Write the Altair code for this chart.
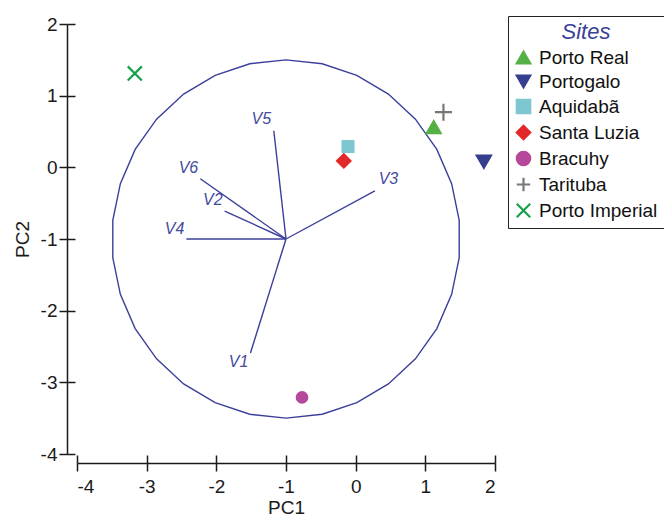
import altair as alt
import numpy as np
import pandas as pd

# ---- data ----
sites = ["Porto Real", "Portogalo", "Aquidabã", "Santa Luzia", "Bracuhy", "Tarituba", "Porto Imperial"]
site_pc1 = [1.12, 1.84, -0.11, -0.17, -0.77, 1.26, -3.17]
site_pc2 = [0.56, 0.08, 0.29, 0.09, -3.21, 0.77, 1.31]
site_colors = ["#55b145", "#363e8e", "#7ec7d1", "#e2282a", "#b6489b", "#7a7672", "#16a04b"]
site_shapes = ["triangle-up", "triangle-down", "square", "diamond", "circle",
               "M-1,0H1M0,-1V1", "M-1,-1L1,1M-1,1L1,-1"]
site_sizes = [190, 200, 118, 175, 110, 290, 200]

vectors = ["V1", "V2", "V3", "V4", "V5", "V6"]
vec_pc1 = [-1.51, -1.88, 0.276, -2.43, -1.175, -2.23]
vec_pc2 = [-2.59, -0.61, -0.33, -1.00, 0.51, -0.16]
vec_label_pc1 = [-1.68, -2.05, 0.47, -2.60, -1.355, -2.40]
vec_label_pc2 = [-2.72, -0.46, -0.165, -0.86, 0.67, -0.01]
origin_pc1 = -1.0
origin_pc2 = -1.0

circle_center = (-1.0, -1.0)
circle_radius = 2.5
circle_sides = 30

ticks = [-4, -3, -2, -1, 0, 1, 2]

# ---- tables ----
sites_df = pd.DataFrame({"Site": sites, "PC1": site_pc1, "PC2": site_pc2, "sz": site_sizes})
vec_df = pd.DataFrame({"v": vectors, "x0": origin_pc1, "y0": origin_pc2,
                       "x1": vec_pc1, "y1": vec_pc2,
                       "lx": vec_label_pc1, "ly": vec_label_pc2})
ang = np.deg2rad(6 + 360.0 / circle_sides * np.arange(circle_sides + 1))
circ_df = pd.DataFrame({"x": circle_center[0] + circle_radius * np.cos(ang),
                        "y": circle_center[1] + circle_radius * np.sin(ang),
                        "o": np.arange(circle_sides + 1)})

FONT = "Liberation Sans"
BLUE = "#3b3f9a"
AX = "#1a1a1a"
xs = alt.Scale(domain=[-4, 2], nice=False, zero=False)
ys = alt.Scale(domain=[-4, 2], nice=False, zero=False)
lab = "datum.value < 0 ? '-' + abs(datum.value) : '' + datum.value"

x_main = alt.Axis(values=ticks, orient="bottom", offset=9, tickSize=8, tickWidth=1.5, tickColor=AX,
                  domainColor=AX, domainWidth=1.5, labelFont=FONT, labelFontSize=19, labelColor=AX,
                  labelPadding=6, labelExpr=lab, title="PC1", titleFont=FONT, titleFontSize=19,
                  titleFontWeight="normal", titleColor=AX, titlePadding=2, grid=False)
y_main = alt.Axis(values=ticks, orient="left", offset=10, tickSize=8, tickWidth=1.5, tickColor=AX,
                  domainColor=AX, domainWidth=1.5, labelFont=FONT, labelFontSize=19, labelColor=AX,
                  labelPadding=2, labelExpr=lab, title="PC2", titleFont=FONT, titleFontSize=19,
                  titleFontWeight="normal", titleColor=AX, titlePadding=8, grid=False)
x_in = alt.Axis(values=ticks, orient="bottom", offset=1, tickSize=8, tickWidth=1.5, tickColor=AX,
                domain=False, labels=False, title=None, grid=False)
y_in = alt.Axis(values=ticks, orient="left", offset=2, tickSize=8, tickWidth=1.5, tickColor=AX,
                domain=False, labels=False, title=None, grid=False)

circle = alt.Chart(circ_df).mark_line(color=BLUE, strokeWidth=1.4).encode(
    x=alt.X("x:Q", scale=xs, axis=x_main),
    y=alt.Y("y:Q", scale=ys, axis=y_main),
    order="o:Q",
)

rules = alt.Chart(vec_df).mark_rule(color=BLUE, strokeWidth=1.4).encode(
    x=alt.X("x0:Q", scale=xs, axis=x_in),
    y=alt.Y("y0:Q", scale=ys, axis=y_in),
    x2="x1:Q", y2="y1:Q",
)

labels = alt.Chart(vec_df).mark_text(font=FONT, fontSize=16, fontStyle="italic", color="#454a9e",
                                     align="center", baseline="middle").encode(
    x=alt.X("lx:Q", scale=xs, axis=None),
    y=alt.Y("ly:Q", scale=ys, axis=None),
    text="v:N",
)

leg = alt.Legend(title="Sites", orient="none", legendX=431, legendY=-8, titleAnchor="middle",
                 titleFont=FONT, titleFontSize=22, titleFontStyle="italic", titleFontWeight="normal",
                 titleColor=BLUE, titlePadding=4, labelFont=FONT, labelFontSize=19, labelColor="#111111",
                 labelOffset=6, symbolSize=180, symbolStrokeWidth=2.2, rowPadding=3, padding=6,
                 strokeColor="#222222", fillColor="white")

points = alt.Chart(sites_df).mark_point(opacity=1, strokeWidth=2.2).encode(
    x=alt.X("PC1:Q", scale=xs, axis=None),
    y=alt.Y("PC2:Q", scale=ys, axis=None),
    fill=alt.Fill("Site:N", scale=alt.Scale(domain=sites, range=site_colors), legend=leg),
    stroke=alt.Stroke("Site:N", scale=alt.Scale(domain=sites, range=site_colors), legend=leg),
    shape=alt.Shape("Site:N", scale=alt.Scale(domain=sites, range=site_shapes), legend=leg),
    size=alt.Size("sz:Q", scale=None, legend=None),
)

chart = alt.layer(circle, rules, labels, points).resolve_axis(
    x="independent", y="independent"
).properties(
    width=418, height=430,
    autosize=alt.AutoSizeParams(type="none"),
    padding={"left": 69, "top": 16, "right": 169, "bottom": 66},
    background="white",
).configure_view(stroke=None)

chart.save("out.html", embed_options={"renderer": "svg", "actions": False})
